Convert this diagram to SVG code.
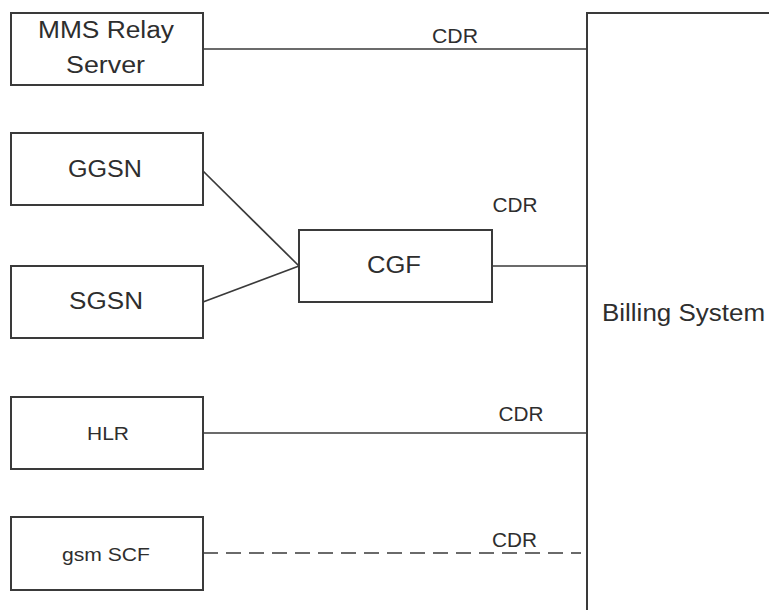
<svg xmlns="http://www.w3.org/2000/svg" width="769" height="610" viewBox="0 0 769 610">
  <style>
    .box { fill: #ffffff; stroke: #3a3a3a; stroke-width: 2; }
    .link { fill: none; stroke: #3a3a3a; stroke-width: 1.7; }
    .dash { stroke-dasharray: 15 8; }
    text { font-family: "Liberation Sans", Arial, sans-serif; fill: #2e2e2e; }
    .big { font-size: 23px; }
    .cdr { font-size: 20px; }
    .small { font-size: 19px; }
    .mid { text-anchor: middle; }
  </style>
  <rect width="769" height="610" fill="#ffffff"/>

  <!-- connectors -->
  <g id="connectors">
    <line class="link" x1="203" y1="49" x2="587" y2="49"/>
    <line class="link" x1="203" y1="171" x2="299" y2="266"/>
    <line class="link" x1="203" y1="302" x2="299" y2="266"/>
    <line class="link" x1="492" y1="266" x2="587" y2="266"/>
    <line class="link" x1="203" y1="433" x2="587" y2="433"/>
    <line class="link dash" x1="203" y1="553" x2="581" y2="553"/>
    <text class="cdr mid" x="455" y="43" textLength="46" lengthAdjust="spacingAndGlyphs">CDR</text>
    <text class="cdr mid" x="515" y="212" textLength="45" lengthAdjust="spacingAndGlyphs">CDR</text>
    <text class="cdr mid" x="521" y="421" textLength="45" lengthAdjust="spacingAndGlyphs">CDR</text>
    <text class="cdr mid" x="514.5" y="547" textLength="45" lengthAdjust="spacingAndGlyphs">CDR</text>
  </g>

  <!-- nodes -->
  <g id="mms-relay-server">
    <rect class="box" x="11" y="13" width="192" height="72"/>
    <text class="big" x="38" y="38" textLength="136" lengthAdjust="spacingAndGlyphs">MMS Relay</text>
    <text class="big" x="66" y="73" textLength="79" lengthAdjust="spacingAndGlyphs">Server</text>
  </g>
  <g id="ggsn">
    <rect class="box" x="11" y="133" width="192" height="72"/>
    <text class="big" x="68" y="177" textLength="74" lengthAdjust="spacingAndGlyphs">GGSN</text>
  </g>
  <g id="sgsn">
    <rect class="box" x="11" y="266" width="192" height="72"/>
    <text class="big" x="69" y="309" textLength="74" lengthAdjust="spacingAndGlyphs">SGSN</text>
  </g>
  <g id="cgf">
    <rect class="box" x="299" y="230" width="193" height="72"/>
    <text class="big" x="367" y="273" textLength="54" lengthAdjust="spacingAndGlyphs">CGF</text>
  </g>
  <g id="hlr">
    <rect class="box" x="11" y="397" width="192" height="72"/>
    <text class="small" x="87" y="440" textLength="42" lengthAdjust="spacingAndGlyphs">HLR</text>
  </g>
  <g id="gsm-scf">
    <rect class="box" x="11" y="517" width="192" height="73"/>
    <text class="small" x="62" y="561" textLength="88" lengthAdjust="spacingAndGlyphs">gsm SCF</text>
  </g>
  <g id="billing-system">
    <rect class="box" x="587" y="13" width="200" height="620"/>
    <text class="big" x="602" y="321" textLength="163" lengthAdjust="spacingAndGlyphs">Billing System</text>
  </g>
</svg>
